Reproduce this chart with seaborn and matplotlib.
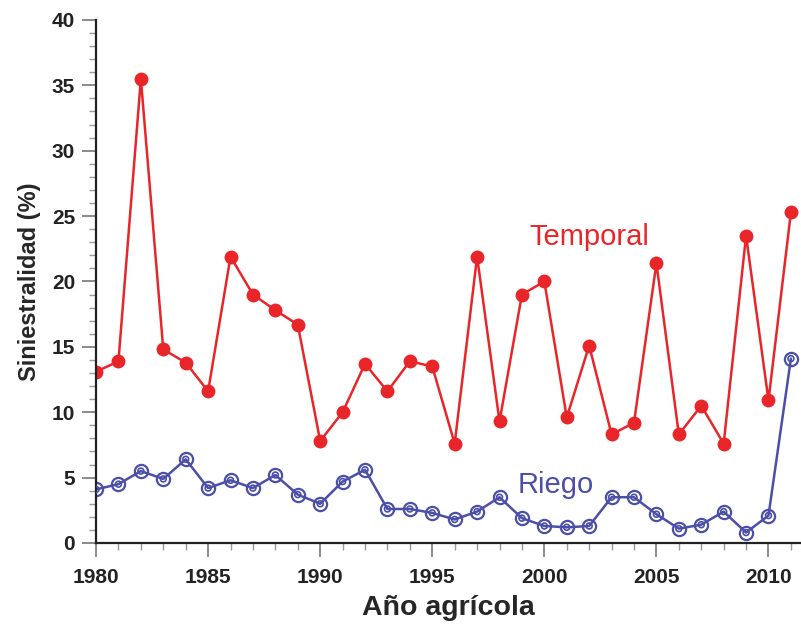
import matplotlib
matplotlib.use("Agg")
import matplotlib.pyplot as plt
import seaborn as sns
import pandas as pd
from matplotlib.ticker import MultipleLocator

years = list(range(1980, 2012))
temporal = [13.1, 13.9, 35.5, 14.8, 13.8, 11.6, 21.9, 19.0, 17.8, 16.7,
            7.8, 10.0, 13.7, 11.6, 13.9, 13.5, 7.6, 21.9, 9.3, 19.0,
            20.0, 9.6, 15.1, 8.3, 9.2, 21.4, 8.3, 10.5, 7.6, 23.5,
            10.9, 25.3]
riego = [4.1, 4.5, 5.5, 4.9, 6.4, 4.2, 4.8, 4.2, 5.2, 3.7,
         3.0, 4.7, 5.6, 2.6, 2.6, 2.3, 1.8, 2.4, 3.5, 1.9,
         1.3, 1.2, 1.3, 3.5, 3.5, 2.2, 1.1, 1.4, 2.4, 0.8,
         2.1, 14.1]

df = pd.DataFrame({"year": years, "Temporal": temporal, "Riego": riego})

sns.set_theme(style="ticks")
plt.rcParams["font.family"] = ["Liberation Sans", "DejaVu Sans"]

RED = "#e8262a"
BLUE = "#4b4fa8"

fig = plt.figure(figsize=(8.01, 6.26), dpi=100)
ax = fig.add_axes([0.1199, 0.1326, 0.8801, 0.8355])

sns.lineplot(data=df, x="year", y="Temporal", ax=ax, color=RED, lw=1.8,
             marker="o", markersize=10, markeredgewidth=0, markerfacecolor=RED)
sns.lineplot(data=df, x="year", y="Riego", ax=ax, color=BLUE, lw=1.8,
             marker="o", markersize=9.5, markerfacecolor="none",
             markeredgecolor=BLUE, markeredgewidth=1.6)
sns.scatterplot(data=df, x="year", y="Riego", ax=ax, s=18, marker="o",
                facecolor="none", edgecolor=BLUE, linewidth=1.2, zorder=5)

ax.set_xlim(1980, 2011.45)
ax.set_ylim(0, 40)
ax.xaxis.set_major_locator(MultipleLocator(5))
ax.xaxis.set_minor_locator(MultipleLocator(1))
ax.yaxis.set_major_locator(MultipleLocator(5))
ax.yaxis.set_minor_locator(MultipleLocator(1))
ax.tick_params(axis="both", which="major", length=10, width=1.2, color="#777777",
               labelsize=15, direction="out")
ax.tick_params(axis="y", which="major", pad=5)
ax.tick_params(axis="x", which="major", pad=8)
ax.tick_params(axis="both", which="minor", length=5, width=1.0, color="#999999",
               direction="out")
for lbl in ax.get_xticklabels() + ax.get_yticklabels():
    lbl.set_fontweight("bold")
    lbl.set_color("#222222")

sns.despine(ax=ax)
for s in ["left", "bottom"]:
    ax.spines[s].set_linewidth(1.6)
    ax.spines[s].set_color("#222222")

ax.set_xlabel("Año agrícola", fontsize=20.5, fontweight="bold", labelpad=6)
ax.set_ylabel("Siniestralidad (%)", fontsize=17, fontweight="bold", labelpad=8)

ax.text(2002.0, 23.4, "Temporal", color=RED, fontsize=21, ha="center", va="center")
ax.text(2000.5, 4.4, "Riego", color=BLUE, fontsize=21, ha="center", va="center")

fig.savefig("out.png", dpi=100)
